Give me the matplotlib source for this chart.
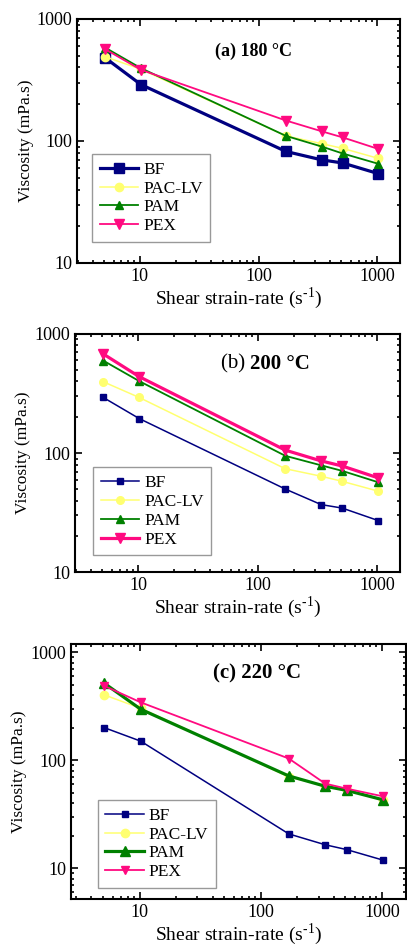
import matplotlib
matplotlib.use("Agg")
import matplotlib.pyplot as plt
from matplotlib import ticker

plt.rcParams['font.family'] = ['Liberation Serif', 'DejaVu Serif']
plt.rcParams['mathtext.fontset'] = 'custom'
plt.rcParams['mathtext.rm'] = 'Liberation Serif'

shear_rate = [5.1, 10.2, 170.3, 340.6, 510.9, 1021.8]
series = ["BF", "PAC-LV", "PAM", "PEX"]

visc_180 = {
    "BF": [480, 290, 82, 70, 66, 54],
    "PAC-LV": [490, 387, 110, 95, 87, 72],
    "PAM": [582, 395, 110, 90, 79, 65],
    "PEX": [565, 383, 147, 120, 107, 86],
}
visc_200 = {
    "BF": [293, 195, 50, 37, 34.6, 27.2],
    "PAC-LV": [397, 293, 74, 64, 58, 48],
    "PAM": [597, 402, 95, 79, 71, 57],
    "PEX": [679, 438, 106, 86, 78, 62],
}
visc_220 = {
    "BF": [200, 150, 20.8, 16.5, 14.9, 11.9],
    "PAC-LV": [402, 302, 70, 58, 52.6, 43],
    "PAM": [515, 296, 71.5, 57.4, 52.6, 43],
    "PEX": [487, 343, 103.6, 60.7, 54.6, 46.3],
}

colors = {"BF": "#000080", "PAC-LV": "#FFFF70", "PAM": "#008000", "PEX": "#FF0A80"}
markers = {"BF": "s", "PAC-LV": "o", "PAM": "^", "PEX": "v"}

# per-panel line width / marker size
styles_a = {"BF": (2.3, 6.5), "PAC-LV": (1.1, 6), "PAM": (1.3, 6), "PEX": (1.3, 6.5)}
styles_b = {"BF": (1.1, 4.5), "PAC-LV": (1.1, 5.5), "PAM": (1.3, 6), "PEX": (2.3, 7.5)}
styles_c = {"BF": (1.1, 5), "PAC-LV": (1.1, 6), "PAM": (2.3, 7.5), "PEX": (1.3, 6)}

fig = plt.figure(figsize=(4.07, 9.46), dpi=100)

panels = [
    dict(rect=[0.189, 0.722, 0.794, 0.258], data=visc_180, st=styles_a,
         ylim=(10, 1000), xlim=(2.95, 1560), title=[("(a) 180 °C", "bold")],
         tpos=(0.545, 0.868), tsize=13, leg=(0.046, 0.086)),
    dict(rect=[0.184, 0.395, 0.799, 0.252], data=visc_200, st=styles_b,
         ylim=(10, 1000), xlim=(2.95, 1560), title=[("(b) ", "normal"), ("200 °C", "bold")],
         tpos=(0.594, 0.875), tsize=15, leg=(0.055, 0.071)),
    dict(rect=[0.174, 0.0497, 0.823, 0.2696], data=visc_220, st=styles_c,
         ylim=(5.2, 1190), xlim=(2.7, 1575), title=[("(c) 220 °C", "bold")],
         tpos=(0.556, 0.885), tsize=15, leg=(0.08, 0.043)),
]

for p in panels:
    ax = fig.add_axes(p["rect"])
    for name in series:
        lw, ms = p["st"][name]
        ax.plot(shear_rate, p["data"][name], color=colors[name], marker=markers[name],
                lw=lw, ms=ms, label=name)
    ax.set_xscale("log")
    ax.set_yscale("log")
    ax.set_xlim(*p["xlim"])
    ax.set_ylim(*p["ylim"])
    fmt = ticker.FuncFormatter(lambda v, _: f"{v:g}")
    ax.xaxis.set_major_formatter(fmt)
    ax.yaxis.set_major_formatter(fmt)
    ax.xaxis.set_minor_formatter(ticker.NullFormatter())
    ax.yaxis.set_minor_formatter(ticker.NullFormatter())
    ax.tick_params(which="both", direction="in", top=True, right=True, labelsize=13, width=1.2)
    ax.tick_params(which="major", length=5)
    ax.tick_params(which="minor", length=2.5)
    for s in ax.spines.values():
        s.set_linewidth(1.5)
    ax.set_xlabel(r"Shear strain-rate (s$^{\text{-1}}$)", fontsize=14, labelpad=0)
    ax.set_ylabel("Viscosity (mPa.s)", fontsize=12.5, labelpad=2)

    # title, possibly mixed weight
    if len(p["title"]) == 1:
        ax.text(p["tpos"][0], p["tpos"][1], p["title"][0][0], transform=ax.transAxes,
                ha="center", va="center", fontsize=p["tsize"], fontweight=p["title"][0][1])
    else:
        t1 = ax.text(p["tpos"][0] - 0.145, p["tpos"][1], p["title"][0][0], transform=ax.transAxes,
                     ha="left", va="center", fontsize=p["tsize"], fontweight=p["title"][0][1])
        fig.canvas.draw()
        bb = t1.get_window_extent().transformed(ax.transAxes.inverted())
        ax.text(bb.x1, p["tpos"][1], p["title"][1][0], transform=ax.transAxes,
                ha="left", va="center", fontsize=p["tsize"], fontweight=p["title"][1][1])

    leg = ax.legend(loc="lower left", bbox_to_anchor=p["leg"], fontsize=12.5, fancybox=False,
                    edgecolor="#808080", handlelength=2.2, handletextpad=0.3,
                    labelspacing=0.15, borderpad=0.45, borderaxespad=0)
    leg.get_frame().set_linewidth(1.0)

fig.savefig("out.png", dpi=100)
